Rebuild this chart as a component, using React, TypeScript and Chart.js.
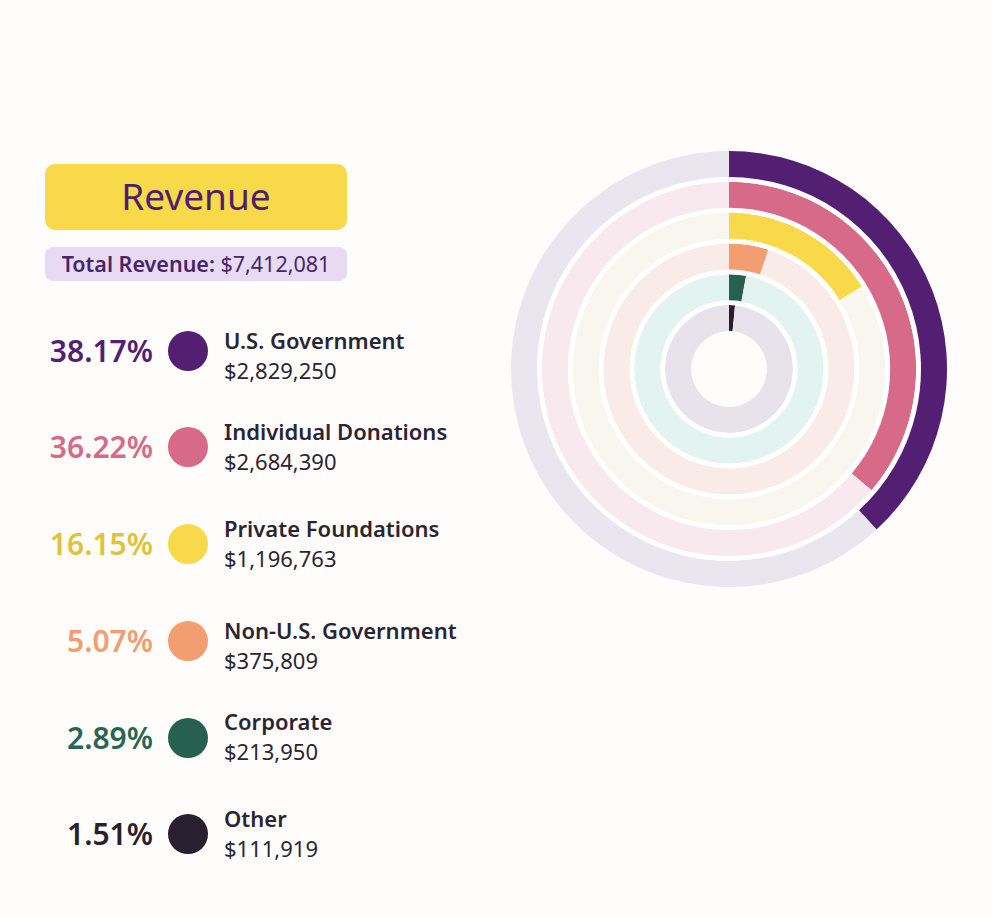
import React, { useEffect, useRef } from "react";
import { Chart, registerables } from "chart.js";

Chart.register(...registerables);

// ---- data ----
const CATEGORIES = [
  "U.S. Government",
  "Individual Donations",
  "Private Foundations",
  "Non-U.S. Government",
  "Corporate",
  "Other",
];
const PERCENTS = [38.17, 36.22, 16.15, 5.07, 2.89, 1.51];
const AMOUNTS = ["$2,829,250", "$2,684,390", "$1,196,763", "$375,809", "$213,950", "$111,919"];
const TOTAL_LABEL = "$7,412,081";

// ---- styles ----
const STRONG = ["#531f73", "#d66a88", "#f8d94a", "#f29e70", "#27604f", "#2a1f2e"];
const TRACK = ["#e9e6ef", "#f8e9ef", "#f8f6ef", "#f9ebe7", "#e3f3f0", "#e8e3ea"];
const PCT_COLOR = ["#531f73", "#d66a88", "#e3c13b", "#f29e70", "#2a6551", "#2a1f2e"];

// layout (px)
const ROW_CY = [351, 447, 544, 641, 738, 834];
const LABEL_DY = [-11, -16, -16, -11, -17, -16];

const FONT = "'Noto Sans', Lato, sans-serif";

export default function App() {
  const canvasRef = useRef<HTMLCanvasElement | null>(null);

  useEffect(() => {
    const canvas = canvasRef.current;
    if (!canvas) return;
    const datasets: any[] = [];
    PERCENTS.forEach((p, i) => {
      datasets.push({
        label: CATEGORIES[i],
        data: [p, 100 - p],
        backgroundColor: [STRONG[i], TRACK[i]],
        weight: 26,
        borderWidth: 0,
        hoverBorderWidth: 0,
        hoverOffset: 0,
      });
      if (i < PERCENTS.length - 1) {
        datasets.push({
          label: "gap" + i,
          data: [100],
          backgroundColor: ["#ffffff"],
          weight: 4.8,
          borderWidth: 0,
          hoverBorderWidth: 0,
          hoverOffset: 0,
        });
      }
    });
    const chart = new Chart(canvas, {
      type: "doughnut",
      data: { labels: ["value", "rest"], datasets },
      options: {
        animation: false,
        responsive: false,
        cutout: "17.4%",
        events: [],
        layout: { padding: 0 },
        plugins: { legend: { display: false }, tooltip: { enabled: false } },
      },
    });
    return () => chart.destroy();
  }, []);

  return (
    <div
      style={{
        position: "absolute",
        left: 0,
        top: 0,
        width: 992,
        height: 916,
        background: "#fffdfc",
        fontFamily: FONT,
        overflow: "hidden",
      }}
    >
      {/* Title */}
      <div
        style={{
          position: "absolute",
          left: 45,
          top: 164,
          width: 302,
          height: 66,
          borderRadius: 10,
          background: "#f8d94a",
          color: "#4f1f6f",
          fontSize: 37,
          lineHeight: "64px",
          textAlign: "center",
        }}
      >
        Revenue
      </div>
      <div
        style={{
          position: "absolute",
          left: 45,
          top: 247,
          width: 302,
          height: 34,
          borderRadius: 8,
          background: "#e6dbf3",
          color: "#4a2468",
          fontSize: 21.5,
          lineHeight: "34px",
          textAlign: "center",
          whiteSpace: "nowrap",
        }}
      >
        <span style={{ fontWeight: 600 }}>Total Revenue: </span>
        <span>{TOTAL_LABEL}</span>
      </div>

      {CATEGORIES.map((c, i) => {
        const cy = ROW_CY[i];
        const ly = cy + LABEL_DY[i];
        return (
          <React.Fragment key={c}>
            <div
              style={{
                position: "absolute",
                right: 992 - 153,
                top: cy - 20,
                height: 40,
                lineHeight: "40px",
                fontSize: 30,
                fontWeight: 600,
                color: PCT_COLOR[i],
                whiteSpace: "nowrap",
              }}
            >
              {PERCENTS[i].toFixed(2)}%
            </div>
            <div
              style={{
                position: "absolute",
                left: 168,
                top: cy - 20,
                width: 40,
                height: 40,
                borderRadius: "50%",
                background: STRONG[i],
              }}
            />
            <div
              style={{
                position: "absolute",
                left: 224,
                top: ly - 14,
                height: 28,
                lineHeight: "28px",
                fontSize: 22,
                fontWeight: 600,
                color: "#2b2533",
                whiteSpace: "nowrap",
              }}
            >
              {c}
            </div>
            <div
              style={{
                position: "absolute",
                left: 224,
                top: ly + 30 - 14,
                height: 28,
                lineHeight: "28px",
                fontSize: 22,
                fontWeight: 400,
                color: "#2b2533",
                whiteSpace: "nowrap",
              }}
            >
              {AMOUNTS[i]}
            </div>
          </React.Fragment>
        );
      })}

      <canvas
        ref={canvasRef}
        width={436}
        height={436}
        style={{ position: "absolute", left: 511, top: 151, width: 436, height: 436 }}
      />
    </div>
  );
}
